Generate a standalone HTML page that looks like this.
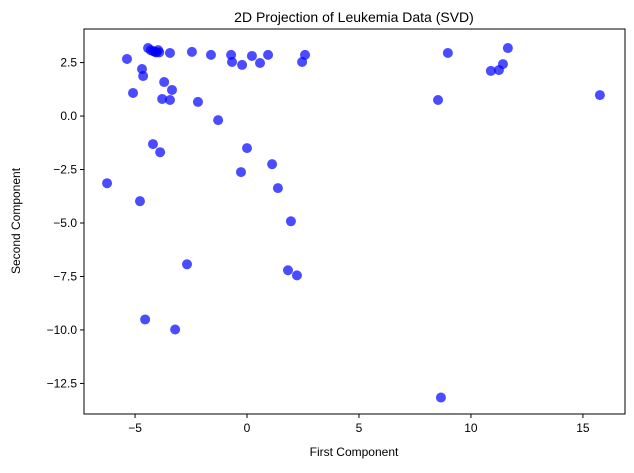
<!DOCTYPE html>
<html><head><meta charset="utf-8"><style>
body{margin:0;background:#fff;font-family:"Liberation Sans","DejaVu Sans",sans-serif}
</style></head><body>
<svg id="chart" width="634" height="468" xmlns="http://www.w3.org/2000/svg">
<text x="354" y="22" text-anchor="middle" font-size="14">2D Projection of Leukemia Data (SVD)</text>
<g id="points"></g>
<g id="axes"></g>
<text x="354" y="456" text-anchor="middle" font-size="12">First Component</text>
<text transform="translate(20,221) rotate(-90)" text-anchor="middle" font-size="12">Second Component</text>
</svg>
<script>
const xs=[-5.36,-4.42,-4.3,-4.18,-4.05,-3.92,-3.97,-4.1,-3.44,-2.46,-1.61,-0.71,-0.67,-0.22,0.22,0.58,0.94,2.46,2.59,-4.69,-4.64,-5.09,-3.7,-3.35,-3.79,-3.44,-2.19,-1.29,-4.2,-3.88,0,-0.27,1.12,1.38,-6.25,-4.78,1.96,-2.68,1.83,2.23,-4.55,-3.21,8.66,8.53,8.97,10.89,11.25,11.43,11.65,15.76];
const ys=[2.67,3.18,3.08,3.03,2.98,2.98,3.08,3.0,2.95,3.0,2.86,2.86,2.53,2.39,2.81,2.48,2.86,2.53,2.86,2.2,1.87,1.08,1.59,1.22,0.8,0.75,0.66,-0.19,-1.31,-1.69,-1.5,-2.62,-2.25,-3.37,-3.14,-3.98,-4.92,-6.93,-7.21,-7.45,-9.51,-9.98,-13.16,0.75,2.95,2.11,2.15,2.43,3.18,0.98];
const xTicks=[-5,0,5,10,15];
const yTicks=[2.5,0,-2.5,-5,-7.5,-10,-12.5];
const yLabels=["2.5","0.0","\u22122.5","\u22125.0","\u22127.5","\u221210.0","\u221212.5"];
const L=84,R=625,T=29,B=414,x0=-7.28,x1=16.88,y0=-13.93,y1=4.07;
const sx=v=>L+(v-x0)/(x1-x0)*(R-L);
const sy=v=>B-(v-y0)/(y1-y0)*(B-T);
const NS="http://www.w3.org/2000/svg";
const pg=document.getElementById('points'),ag=document.getElementById('axes');
xs.forEach((x,i)=>{const c=document.createElementNS(NS,'circle');
c.setAttribute('cx',sx(x));c.setAttribute('cy',sy(ys[i]));c.setAttribute('r',5);
c.setAttribute('fill','rgba(0,0,255,0.7)');


pg.appendChild(c);});
const fr=document.createElementNS(NS,'rect');
fr.setAttribute('x',L);fr.setAttribute('y',T);fr.setAttribute('width',R-L);fr.setAttribute('height',B-T);
fr.setAttribute('fill','none');fr.setAttribute('stroke','#000');fr.setAttribute('stroke-width','1');


ag.appendChild(fr);
xTicks.forEach(t=>{const x=sx(t);
const l=document.createElementNS(NS,'line');l.setAttribute('x1',x);l.setAttribute('x2',x);l.setAttribute('y1',B);l.setAttribute('y2',B+4);l.setAttribute('stroke','#000');


ag.appendChild(l);
const tx=document.createElementNS(NS,'text');tx.setAttribute('x',x);tx.setAttribute('y',B+18);tx.setAttribute('text-anchor','middle');tx.setAttribute('font-size','12');
tx.textContent=t<0?'\u2212'+(-t):String(t);


ag.appendChild(tx);});
yTicks.forEach((t,i)=>{const y=sy(t);
const l=document.createElementNS(NS,'line');l.setAttribute('x1',L-4);l.setAttribute('x2',L);l.setAttribute('y1',y);l.setAttribute('y2',y);l.setAttribute('stroke','#000');


ag.appendChild(l);
const tx=document.createElementNS(NS,'text');tx.setAttribute('x',L-7);tx.setAttribute('y',y+4);tx.setAttribute('text-anchor','end');tx.setAttribute('font-size','12');
tx.textContent=yLabels[i];


ag.appendChild(tx);});
</script>
</body></html>
